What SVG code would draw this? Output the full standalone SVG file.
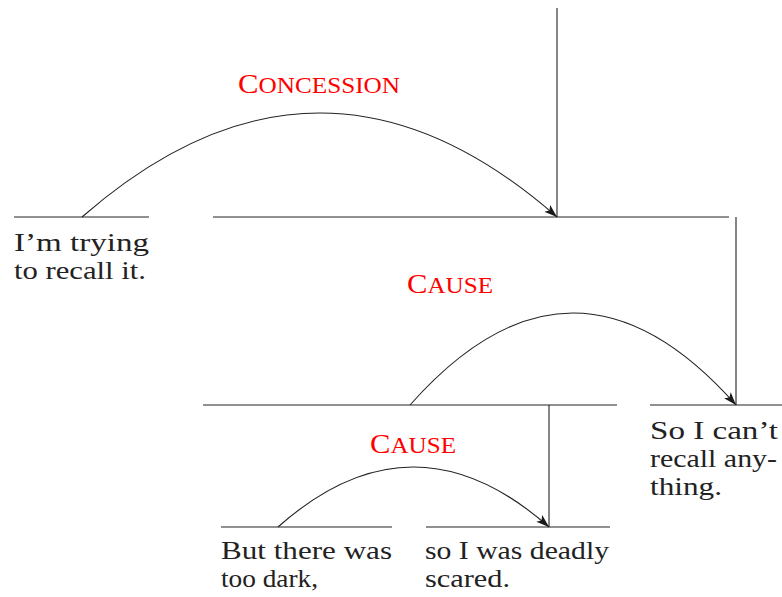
<svg xmlns="http://www.w3.org/2000/svg" width="782" height="597" viewBox="0 0 782 597" font-family="Liberation Serif, DejaVu Serif, serif">
<defs>
<marker id="ah" viewBox="0 0 13 10" refX="13" refY="5" markerWidth="13" markerHeight="10" markerUnits="userSpaceOnUse" orient="auto">
<path d="M0,0.5 L13,5 L0,9.5 L3,5 Z" fill="#1a1a1a"/>
</marker>
<style>
.ln{stroke:#222;stroke-width:1.1;fill:none}
.t{font-size:26px;fill:#222}
.rel{font-size:23px;fill:#ff0000;text-anchor:middle}
.cap{font-size:28px}
</style>
</defs>
<g id="connectors">
<line class="ln" x1="557" y1="8" x2="557" y2="217"/>
<line class="ln" x1="736" y1="217" x2="736" y2="405"/>
<line class="ln" x1="549" y1="405" x2="549" y2="527"/>
<path class="ln" d="M82,217 Q320,9 557,217" marker-end="url(#ah)"/>
<path class="ln" d="M410,405 Q573,221 736,405" marker-end="url(#ah)"/>
<path class="ln" d="M278,527 Q413,407 549,527" marker-end="url(#ah)"/>
</g>
<g id="root">
<line class="ln" x1="213" y1="217" x2="729" y2="217"/>
</g>
<g id="n-trying" font-family="Liberation Serif, serif">
<line class="ln" x1="14" y1="217" x2="149" y2="217"/>
<text class="t" x="14" y="251" textLength="135" lengthAdjust="spacingAndGlyphs">I’m  trying</text>
<text class="t" x="14" y="279" textLength="132" lengthAdjust="spacingAndGlyphs">to recall it.</text>
</g>
<g id="rel-concession" font-family="Liberation Serif, serif"><text class="rel" x="319" y="93" textLength="162" lengthAdjust="spacingAndGlyphs"><tspan class="cap">C</tspan>ONCESSION</text></g>
<g id="n-cause1">
<line class="ln" x1="203" y1="405" x2="617" y2="405"/>
</g>
<g id="rel-cause1" font-family="Liberation Serif, serif"><text class="rel" x="450" y="293" textLength="86" lengthAdjust="spacingAndGlyphs"><tspan class="cap">C</tspan>AUSE</text></g>
<g id="n-cant" font-family="Liberation Serif, serif">
<line class="ln" x1="650" y1="405" x2="782" y2="405"/>
<text class="t" x="650" y="439" textLength="128" lengthAdjust="spacingAndGlyphs">So  I  can’t</text>
<text class="t" x="650" y="467" textLength="127" lengthAdjust="spacingAndGlyphs">recall any-</text>
<text class="t" x="650" y="495" textLength="72" lengthAdjust="spacingAndGlyphs">thing.</text>
</g>
<g id="rel-cause2" font-family="Liberation Serif, serif"><text class="rel" x="413" y="453" textLength="86" lengthAdjust="spacingAndGlyphs"><tspan class="cap">C</tspan>AUSE</text></g>
<g id="n-dark" font-family="Liberation Serif, serif">
<line class="ln" x1="221" y1="527" x2="392" y2="527"/>
<text class="t" x="221" y="559" textLength="171" lengthAdjust="spacingAndGlyphs">But there was</text>
<text class="t" x="221" y="587" textLength="97" lengthAdjust="spacingAndGlyphs">too dark,</text>
</g>
<g id="n-scared" font-family="Liberation Serif, serif">
<line class="ln" x1="426" y1="527" x2="610" y2="527"/>
<text class="t" x="425" y="559" textLength="184" lengthAdjust="spacingAndGlyphs">so I was deadly</text>
<text class="t" x="425" y="587" textLength="85" lengthAdjust="spacingAndGlyphs">scared.</text>
</g>
</svg>
